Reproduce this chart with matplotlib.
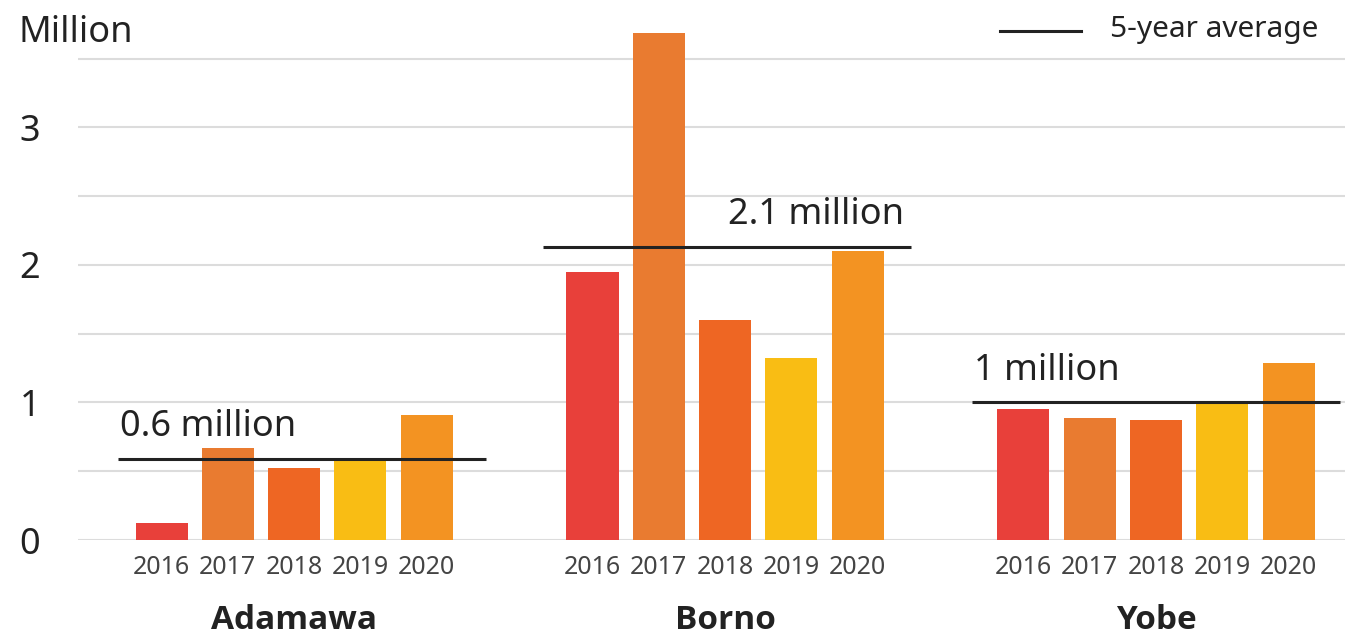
import matplotlib
matplotlib.use("Agg")
import matplotlib.pyplot as plt
from matplotlib.lines import Line2D
import matplotlib.transforms as mtransforms

plt.rcParams['font.family'] = ['Noto Sans', 'DejaVu Sans']

# ---- data ----
states = ["Adamawa", "Borno", "Yobe"]
years = ["2016", "2017", "2018", "2019", "2020"]
adamawa = [0.12, 0.67, 0.52, 0.58, 0.91]
borno = [1.95, 3.69, 1.60, 1.32, 2.10]
yobe = [0.95, 0.89, 0.87, 1.00, 1.29]
averages = [0.59, 2.13, 1.00]
avg_labels = ["0.6 million", "2.1 million", "1 million"]
yticks = [0, 1, 2, 3]
gridlines = [0, 0.5, 1, 1.5, 2, 2.5, 3, 3.5]
year_colors = ["#E8403A", "#E97B30", "#EE6623", "#F9BD14", "#F39322"]
series = [adamawa, borno, yobe]

W, H = 1357, 635
fig = plt.figure(figsize=(W / 100, H / 100), dpi=100)
fig.patch.set_facecolor("white")

ax_left, ax_right, ax_bottom, ax_top = 78, 1345, 540, 10.6
ax = fig.add_axes([ax_left / W, 1 - ax_bottom / H, (ax_right - ax_left) / W, (ax_bottom - ax_top) / H])
ax.set_facecolor("white")

group_gap = 6.5
bar_w = 0.785
xticks, xlabels = [], []
for g, vals in enumerate(series):
    c = g * group_gap
    for i, v in enumerate(vals):
        x = c + (i - 2)
        ax.bar(x, v, width=bar_w, color=year_colors[i], zorder=2)
        xticks.append(x)
        xlabels.append(years[i])

for gy in gridlines:
    ax.axhline(gy, color="#dcdcdc", lw=1.5, zorder=1)

ax.set_xlim(-3.26, 2 * group_gap + 2.85)
ax.set_ylim(0, 3.85)

spans = [(-2.65, 2.9), (-2.75, 2.8), (-2.78, 2.77)]
for g, (avg, lab) in enumerate(zip(averages, avg_labels)):
    c = g * group_gap
    x0, x1 = spans[g]
    ax.plot([c + x0, c + x1], [avg, avg], color="#222222", lw=2.2, zorder=3, solid_capstyle="butt")
    if g == 1:
        ax.annotate(lab, (c + x1 - 0.1, avg), xytext=(0, 10), textcoords="offset points",
                    ha="right", va="bottom", fontsize=26, color="#222222")
    else:
        ax.annotate(lab, (c + x0 + 0.03, avg), xytext=(0, 10), textcoords="offset points",
                    ha="left", va="bottom", fontsize=26, color="#222222")

ax.set_xticks(xticks)
ax.set_xticklabels(xlabels, fontsize=18, color="#444444")
ax.tick_params(axis="x", length=0, pad=11)

ax.set_yticks(yticks)
ax.set_yticklabels([str(t) for t in yticks], fontsize=26, color="#222222")
ax.tick_params(axis="y", length=0, pad=42)
for t in ax.get_yticklabels():
    t.set_horizontalalignment("left")

for s in ax.spines.values():
    s.set_visible(False)

trans = mtransforms.blended_transform_factory(ax.transData, ax.transAxes)
for g, name in enumerate(states):
    ax.text(g * group_gap, -0.152, name, transform=trans, ha="center", va="center",
            fontsize=24, fontweight="bold", color="#222222",
            family=["Open Sans", "Lato", "DejaVu Sans"])

fig.text(18 / W, 1 - 33 / H, "Million", ha="left", va="center", fontsize=26, color="#222222")

fig.add_artist(Line2D([1000 / W, 1081 / W], [1 - 31 / H, 1 - 31 / H], color="#222222", lw=2.2,
                      transform=fig.transFigure))
fig.text(1110 / W, 1 - 30 / H, "5-year average", ha="left", va="center", fontsize=21.5, color="#222222")

fig.savefig("out.png", dpi=100, facecolor="white")
